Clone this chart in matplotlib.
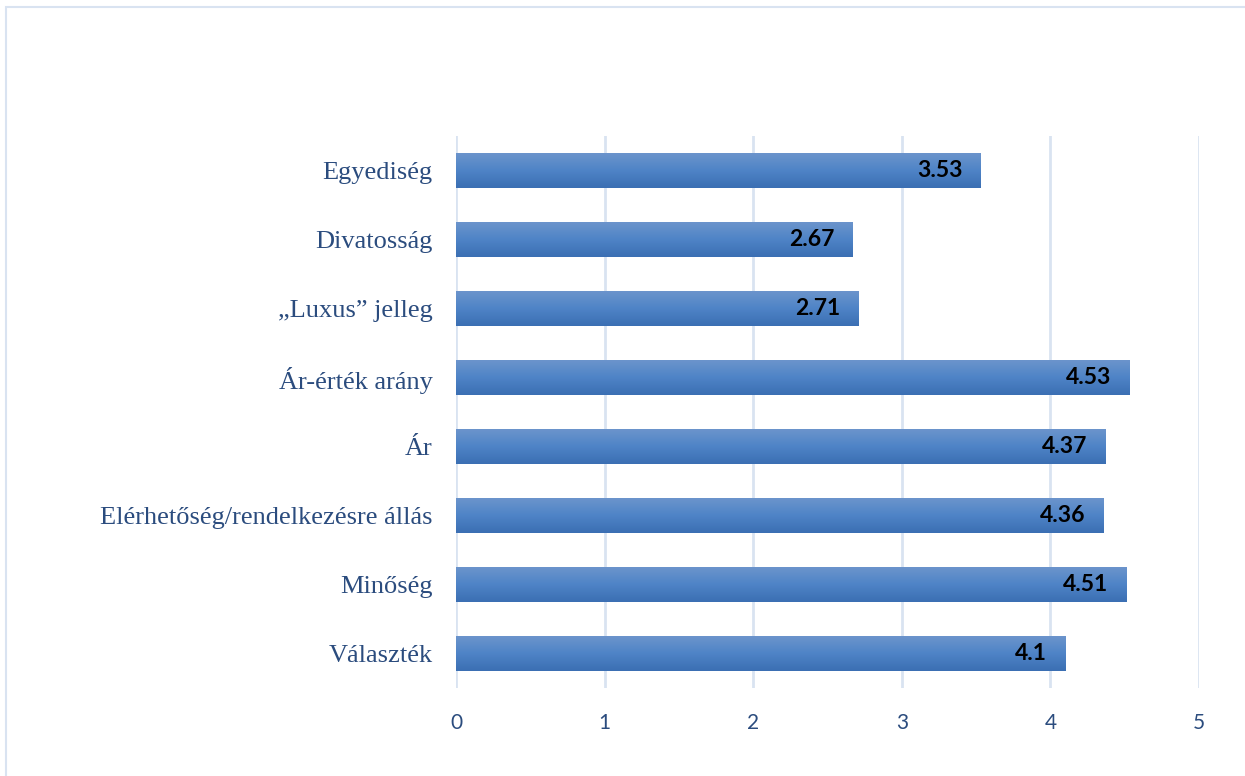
import matplotlib.pyplot as plt
import numpy as np
from matplotlib.patches import Rectangle
from matplotlib.colors import LinearSegmentedColormap

# data, bottom to top as drawn
kategoriak = ["Választék", "Minőség", "Elérhetőség/rendelkezésre állás", "Ár",
              "Ár-érték arány", "\u201eLuxus\u201d jelleg", "Divatosság", "Egyediség"]
ertekek = [4.1, 4.51, 4.36, 4.37, 4.53, 2.71, 2.67, 3.53]
cimkek = ["4.1", "4.51", "4.36", "4.37", "4.53", "2.71", "2.67", "3.53"]
xtick_vals = [0, 1, 2, 3, 4, 5]

szoveg_szin = "#2B4C7E"
racs_szin = "#D9E3F1"

fig = plt.figure(figsize=(12.45, 7.76), dpi=100)
ax = fig.add_axes([0.3663, 0.1134, 0.5968, 0.7113])

y = np.arange(len(kategoriak))
bars = ax.barh(y, ertekek, height=0.52, color="#4A7DC0", zorder=2)

# gradient fill, lighter on top
grad = np.linspace(0, 1, 64).reshape(-1, 1)
cmap = LinearSegmentedColormap.from_list("kek", ["#3B6FB3", "#4F84C7", "#6D95CC"])
for b in bars:
    x0, y0 = b.get_x(), b.get_y()
    w, h = b.get_width(), b.get_height()
    im = ax.imshow(grad, cmap=cmap, aspect="auto", origin="lower",
                   extent=[x0, x0 + w, y0, y0 + h], zorder=3)
    im.set_clip_path(b)

for i, (v, c) in enumerate(zip(ertekek, cimkek)):
    ax.annotate(c, xy=(v, i), xytext=(-13, 0), textcoords="offset points",
                ha="right", va="center", fontsize=16.5, fontweight="bold",
                family="Lato", color="black", zorder=4)

ax.set_xlim(0, 5)
ax.set_ylim(-0.5, len(kategoriak) - 0.5)
ax.set_xticks(xtick_vals)
ax.set_xticklabels([str(t) for t in xtick_vals], family="Lato", fontsize=15,
                   color=szoveg_szin)
ax.set_yticks(y)
ax.set_yticklabels(kategoriak, family="Liberation Serif", fontsize=19,
                   color=szoveg_szin)
ax.tick_params(axis="both", length=0)
ax.tick_params(axis="x", pad=18)
ax.tick_params(axis="y", pad=17)
ax.grid(axis="x", color=racs_szin, linewidth=2, zorder=0)
ax.set_axisbelow(True)
for s in ax.spines.values():
    s.set_visible(False)

# chart border
fig.patches.append(Rectangle((6 / 1245, -0.1), 1.2, 1 - 7 / 776 + 0.1,
                             transform=fig.transFigure, fill=False,
                             edgecolor=racs_szin, linewidth=1.5))

fig.savefig("out.png", dpi=100)
